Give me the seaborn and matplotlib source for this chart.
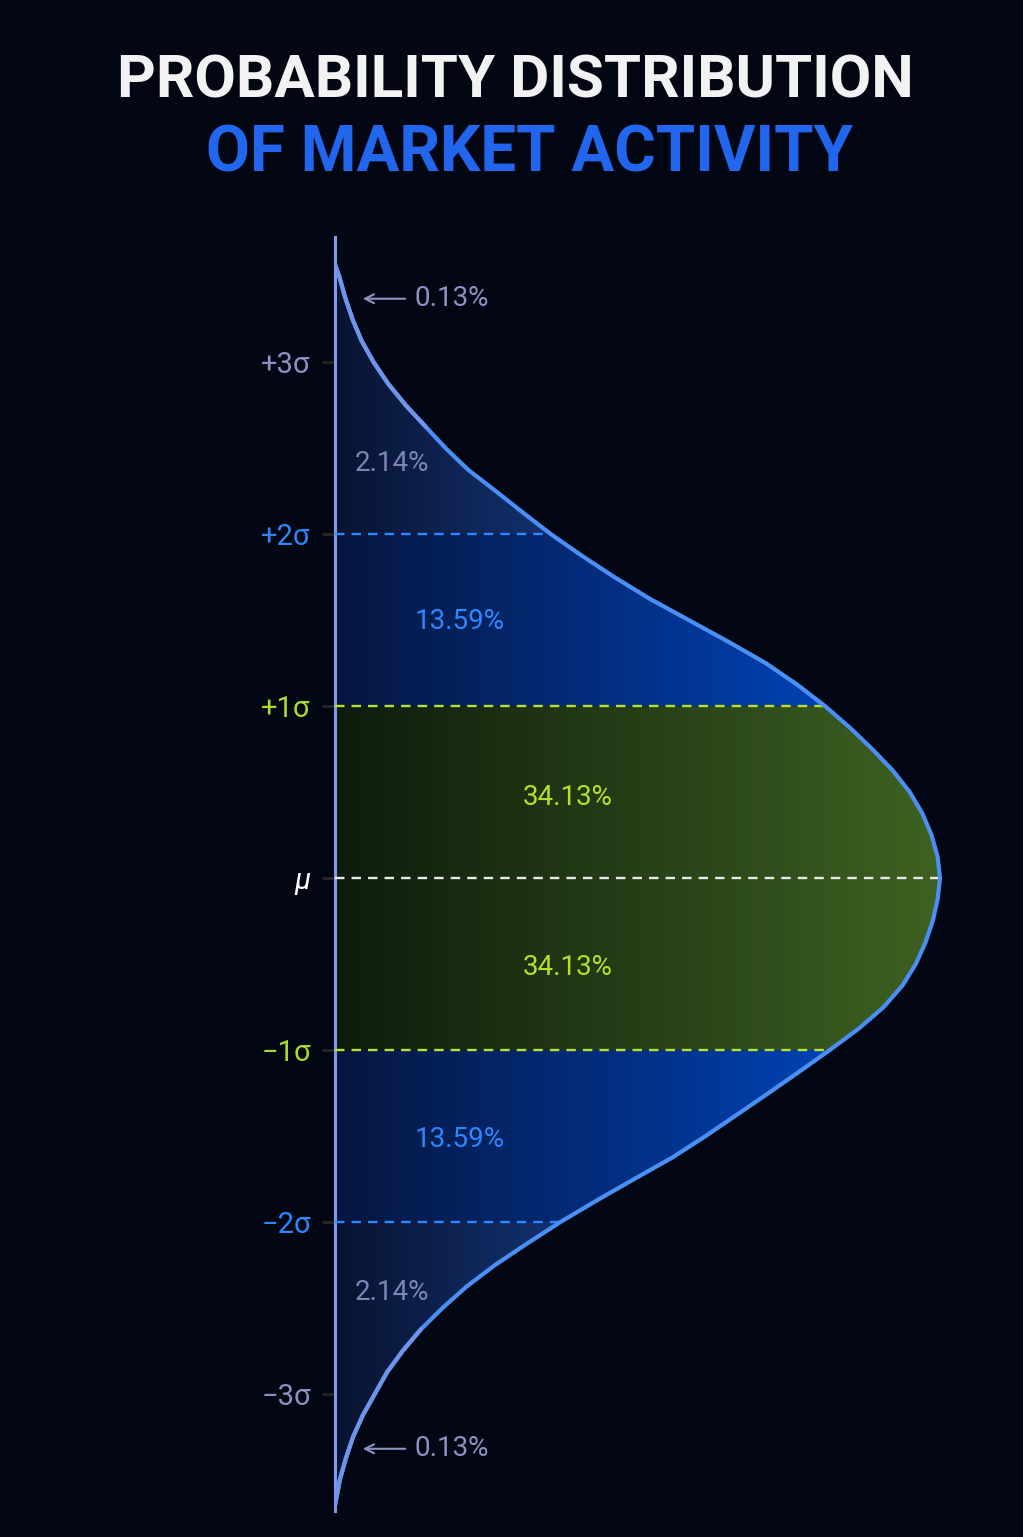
import numpy as np
import pandas as pd
import matplotlib
matplotlib.use('Agg')
import matplotlib.pyplot as plt
import seaborn as sns
from matplotlib.colors import to_rgb

# curve: position in sigma units, relative density (peak = 1)
z_upper = [3.57, 3.5, 3.375, 3.25, 3.125, 3.0, 2.875, 2.75, 2.625, 2.5, 2.375, 2.25,
           2.125, 2.0, 1.875, 1.75, 1.625, 1.5, 1.375, 1.25, 1.125, 1.0, 0.875, 0.75,
           0.625, 0.5, 0.375, 0.25, 0.125, 0.0]
dens_upper = [0.000, 0.007, 0.017, 0.029, 0.044, 0.064, 0.088, 0.117, 0.150, 0.183, 0.220,
              0.266, 0.311, 0.357, 0.408, 0.462, 0.520, 0.585, 0.650, 0.712, 0.764, 0.810,
              0.851, 0.888, 0.922, 0.950, 0.971, 0.986, 0.996, 1.000]
z_lower = [-0.125, -0.25, -0.375, -0.5, -0.625, -0.75, -0.875, -1.0, -1.125, -1.25,
           -1.375, -1.5, -1.625, -1.75, -1.875, -2.0, -2.125, -2.25, -2.375, -2.5,
           -2.625, -2.75, -2.875, -3.0, -3.125, -3.25, -3.375, -3.5, -3.65]
dens_lower = [0.996, 0.988, 0.976, 0.960, 0.938, 0.907, 0.866, 0.818, 0.768, 0.717,
              0.665, 0.613, 0.558, 0.495, 0.433, 0.373, 0.318, 0.265, 0.218, 0.178,
              0.142, 0.112, 0.086, 0.066, 0.046, 0.030, 0.018, 0.008, 0.000]

tick_pos = [3, 2, 1, 0, -1, -2, -3]
tick_labels = ['+3σ', '+2σ', '+1σ', 'μ', '−1σ', '−2σ', '−3σ']
tick_colors = ['#8a92c4', '#2f86ff', '#a8dc2c', '#ffffff', '#a8dc2c', '#2f86ff', '#8a92c4']

band_labels = ['0.13%', '2.14%', '13.59%', '34.13%', '34.13%', '13.59%', '2.14%', '0.13%']
band_label_z = [3.37, 2.41, 1.495, 0.47, -0.52, -1.52, -2.41, -3.32]
band_label_x = [0.132, 0.033, 0.132, 0.311, 0.311, 0.132, 0.033, 0.132]
band_label_colors = ['#8a93c2', '#7c86b4', '#2f86ff', '#b5e02a',
                     '#b5e02a', '#2f86ff', '#7c86b4', '#8a93c2']

BG = '#030713'

sns.set_theme(style='white')
plt.rcParams['font.family'] = ['Roboto', 'DejaVu Sans']

df = pd.DataFrame({'z': z_upper + z_lower, 'density': dens_upper + dens_lower})

fig = plt.figure(figsize=(10.23, 15.37), dpi=100, facecolor=BG)
ax = fig.add_axes([335 / 1023, 1 - 1511 / 1537, 1 - 335 / 1023, (1511 - 237) / 1537])
ax.set_facecolor(BG)


def gradient_band(sub, c0, c1):
    # fill the band under the curve with a left-to-right colour gradient
    poly = ax.fill_betweenx(sub['z'], 0, sub['density'], facecolor='none', edgecolor='none')
    t = np.linspace(0, 1, 256)[:, None]
    rgb = np.array(to_rgb(c0)) * (1 - t) + np.array(to_rgb(c1)) * t
    im = ax.imshow(rgb[None, :, :], extent=[0, sub['density'].max(), sub['z'].min(), sub['z'].max()],
                   aspect='auto', origin='lower', interpolation='bilinear', zorder=1)
    im.set_clip_path(poly.get_paths()[0], ax.transData)


gradient_band(df[df.z >= 2], '#081330', '#133270')
gradient_band(df[df.z <= -2], '#081330', '#133270')
gradient_band(df[(df.z >= 1) & (df.z <= 2)], '#06163f', '#0042b4')
gradient_band(df[(df.z >= -2) & (df.z <= -1)], '#06163f', '#0042b4')
gradient_band(df[(df.z >= -1) & (df.z <= 1)], '#0e1c0c', '#3e6222')

# dashed sigma levels, stopping at the curve
z_sorted = df.sort_values('z')
for lvl, col in [(2, '#2f86ff'), (1, '#b8e030'), (0, '#e8e8e8'), (-1, '#b8e030'), (-2, '#2f86ff')]:
    xr = np.interp(lvl, z_sorted['z'], z_sorted['density'])
    ax.hlines(lvl, 0, xr, colors=col, linestyles=(0, (4, 3)), lw=1.7, zorder=3)

# main curve, with the lighter periwinkle tails drawn on top
sns.lineplot(data=df, x='density', y='z', sort=False, estimator=None, orient='y',
             color='#4a8ff4', lw=3, ax=ax, zorder=5)
sns.lineplot(data=df[df.z >= 2.6], x='density', y='z', sort=False, estimator=None, orient='y',
             color='#6f95ea', lw=3, ax=ax, zorder=6)
sns.lineplot(data=df[df.z <= -2.6], x='density', y='z', sort=False, estimator=None, orient='y',
             color='#6f95ea', lw=3, ax=ax, zorder=6)

# band percentages
for lab, zz, xx, col in zip(band_labels, band_label_z, band_label_x, band_label_colors):
    ax.text(xx, zz, lab, color=col, fontsize=20, ha='left', va='center', zorder=7)

for zz in [band_label_z[0], band_label_z[-1]]:
    ax.annotate('', xy=(0.046, zz), xytext=(0.116, zz),
                arrowprops=dict(arrowstyle='->', color='#8a93c2', lw=1.5,
                                mutation_scale=16, shrinkA=0, shrinkB=0), zorder=7)

ax.set_yticks(tick_pos, tick_labels)
ax.set_xticks([])
ax.tick_params(axis='y', length=9.5, width=2, pad=8, labelsize=21, left=True)
for tick, col in zip(ax.yaxis.get_major_ticks(), tick_colors):
    tick.tick1line.set_color(col)
    tick.label1.set_color(col)
ax.yaxis.get_major_ticks()[3].label1.set_fontstyle('italic')

for s in ['top', 'right', 'bottom']:
    ax.spines[s].set_visible(False)
ax.spines['left'].set_color('#7d9be6')
ax.spines['left'].set_linewidth(2.2)
ax.set_xlabel('')
ax.set_ylabel('')
ax.set_xlim(0, 688 / 605)
ax.set_ylim(-3.682, 3.729)

fig.text(515 / 1023, 1 - 98 / 1537, 'PROBABILITY DISTRIBUTION', ha='center', va='baseline',
         fontsize=43.3, fontweight='bold', color='#f2f2f2')
fig.text(530 / 1023, 1 - 172 / 1537, 'OF MARKET ACTIVITY', ha='center', va='baseline',
         fontsize=45.8, fontweight='bold', color='#2266ee')

fig.savefig('out.png', dpi=100, facecolor=BG)
